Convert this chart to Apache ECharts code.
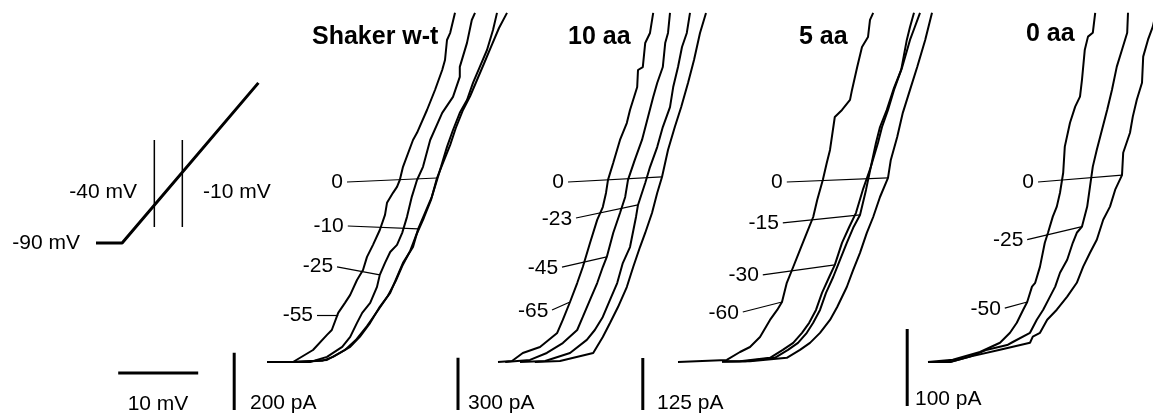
<!DOCTYPE html>
<html>
<head>
<meta charset="utf-8">
<script src="https://cdn.jsdelivr.net/npm/echarts@6/dist/echarts.min.js"></script>
<style>
  html, body { margin: 0; background: #fff; }
  #dom { width: 1153px; height: 414px; }
</style>
</head>
<body>
<div id="dom"></div>
<script>
// ramp protocol (schematic): time in ms, voltage in mV
var rampTime = [0, 28, 174];
var rampVolt = [-74.5, -74.5, 71];
var cursorTimes = [62.5, 92.5];
var cursorRange = [-60, 19];

var panelNames = ['Shaker w-t', '10 aa', '5 aa', '0 aa'];
var scaleBarPA = [200, 300, 125, 100];
var scaleBarMV = 10;

// traces: [mV, pA]
var wt_m55 = [[-40,0],[-36.75,0],[-34.25,42],[-32.5,95],[-31.9,112],[-31.1,172],[-30.25,207],[-29.6,235],[-28.75,287],[-28,322],[-27.5,368],[-26.75,410],[-25.9,462],[-25.25,515],[-25,557],[-24.25,592],[-23.75,613],[-23.4,637],[-23,683],[-21.75,777],[-21.25,802],[-20,882],[-19,952],[-18.1,1022],[-17.75,1057],[-17.5,1127],[-17.1,1152],[-16.5,1222]];
var wt_m25 = [[-36.75,0],[-34.6,0],[-32.5,18],[-30.6,53],[-29.6,88],[-28.75,137],[-28.1,172],[-27.1,207],[-26.25,263],[-25.9,305],[-25.25,347],[-24.6,385],[-23.75,410],[-23.1,452],[-22.5,508],[-21.9,578],[-21.25,637],[-20.5,683],[-19.6,777],[-18.1,872],[-16.75,928],[-15.9,998],[-15.9,1033],[-15,1117],[-14.4,1197],[-14,1222]];
var wt_m10 = [[-36.75,0],[-34,4],[-32.5,7],[-30.9,32],[-29.6,53],[-28.4,88],[-27.1,137],[-25.9,193],[-24.6,242],[-23.75,298],[-23,347],[-21.75,403],[-21.1,466],[-20.25,522],[-19.4,578],[-18.75,637],[-18.25,683],[-17.5,753],[-16.75,812],[-15.9,872],[-15,917],[-14.25,977],[-13.4,1033],[-12.5,1092],[-11.75,1162],[-11.25,1222]];
var wt_0 = [[-36.75,0],[-33.1,4],[-31.75,18],[-30.25,42],[-28.9,77],[-27.5,126],[-26.1,182],[-24.9,231],[-23.9,284],[-23.1,336],[-22.1,389],[-21.4,441],[-20.4,504],[-19.5,567],[-18.75,644],[-18,697],[-17.1,760],[-16.4,819],[-15.5,882],[-14.6,931],[-13.75,987],[-12.9,1043],[-12,1103],[-11,1169],[-10,1222]];

var aa10_m65 = [[-40,0],[-38.25,6],[-36.9,52],[-34.75,86],[-32.6,167],[-31.9,242],[-31,345],[-30.1,454],[-29.4,546],[-28.5,684],[-27.6,817],[-26.9,891],[-26.5,972],[-26.25,1047],[-25.6,1144],[-24.75,1277],[-23.9,1374],[-23.5,1449],[-22.6,1581],[-22.5,1679],[-21.9,1696],[-21.6,1834],[-21,1892],[-20.6,2007]];
var aa10_m45 = [[-39.1,0],[-36,12],[-33.9,52],[-31.9,109],[-30.1,184],[-29.4,259],[-28.5,357],[-27.6,454],[-26.9,546],[-26.4,604],[-25.6,742],[-24.75,857],[-24.1,949],[-23.75,1047],[-22.9,1162],[-22,1277],[-21.25,1409],[-20.6,1524],[-20.1,1604],[-19.4,1696],[-19.1,1834],[-18.75,1892],[-18.5,2007]];
var aa10_m23 = [[-37.25,0],[-34.1,6],[-31,52],[-28.9,127],[-27.9,184],[-26.9,259],[-26,357],[-25.1,454],[-24.4,569],[-23.5,661],[-22.75,834],[-22.5,903],[-21.6,1029],[-21,1121],[-20.1,1236],[-19.4,1351],[-18.5,1466],[-18.1,1581],[-17.5,1696],[-17,1811],[-16.4,1892],[-16,2007]];
var aa10_0 = [[-35.4,0],[-32.25,6],[-28.1,52],[-26.9,144],[-26,224],[-25,316],[-23.9,431],[-23.1,546],[-22.25,661],[-21.6,742],[-20.75,857],[-20.1,972],[-19.5,1064],[-18.75,1219],[-17.9,1351],[-17.1,1466],[-16.25,1604],[-15.5,1737],[-14.75,1892],[-14,2007]];

var aa5_m60 = [[-40,0],[-33.9,5],[-32.25,24],[-31,36],[-29.75,60],[-28.5,101],[-27.6,125],[-27,144],[-26.4,190],[-25.6,228],[-24.75,269],[-23.9,310],[-23.1,348],[-22.6,389],[-21.9,437],[-21.4,478],[-21,509],[-20.4,588],[-19.5,605],[-18.5,629],[-18.25,653],[-17.6,708],[-17,756],[-16.25,780],[-16,821],[-15.6,838]];
var aa5_m30 = [[-34.5,1],[-32.25,2],[-28.5,10],[-26.9,29],[-25.6,46],[-24.5,70],[-23.6,94],[-22.75,125],[-22,166],[-21.1,204],[-20.4,233],[-19.5,286],[-18.6,324],[-17.75,358],[-16.9,413],[-15.9,468],[-15,526],[-14.5,564],[-13.75,605],[-13,653],[-12.1,701],[-11.4,773],[-11,804],[-10.5,838]];
var aa5_m15 = [[-34.5,1],[-31.6,2],[-27.9,10],[-26.25,29],[-25,46],[-23.9,70],[-23.1,94],[-22.25,125],[-21.5,166],[-20.6,204],[-19.75,245],[-18.9,286],[-18.1,322],[-17.25,353],[-16.5,413],[-15.9,468],[-15.25,526],[-14.75,564],[-13.9,605],[-13,658],[-12,706],[-11,773],[-10.4,804],[-9.75,838]];
var aa5_0 = [[-34.5,1],[-31,2],[-26.4,10],[-24.75,29],[-23.5,46],[-22.25,70],[-21,101],[-20.1,132],[-18.9,180],[-18.1,221],[-17.25,262],[-16.4,310],[-15.6,348],[-14.75,396],[-13.75,442],[-13.4,485],[-12.6,540],[-11.9,598],[-11,653],[-10.1,708],[-9.1,773],[-8.25,838]];

var aa0_m50 = [[-40,0],[-36.9,3],[-33.5,13],[-31,25],[-29.75,38],[-28.9,51],[-28.1,68],[-27.6,78],[-27,98],[-26.6,103],[-26,124],[-25.4,155],[-25,168],[-24.4,189],[-23.9,202],[-23.5,220],[-23.1,246],[-22.9,280],[-22.25,311],[-21.6,332],[-21,345],[-20.75,367],[-20.4,406],[-20,423],[-19.4,428],[-19.1,454]];
var aa0_m25 = [[-40,0],[-37.25,0],[-34.75,7],[-32.6,16],[-30.1,22],[-29.4,26],[-27.25,38],[-26.4,55],[-25.6,68],[-24.75,85],[-24.1,98],[-23.5,116],[-22.6,133],[-21.9,155],[-21.4,168],[-20.75,176],[-20.1,202],[-19.75,228],[-19.4,254],[-18.9,276],[-18.25,302],[-17.6,328],[-17,354],[-16.4,384],[-15.75,406],[-15.1,428],[-15,454]];
var aa0_0 = [[-40,0],[-37.25,0],[-34.75,7],[-31,16],[-27.25,25],[-26.9,33],[-26,38],[-25.1,55],[-23.9,68],[-22.6,85],[-21.4,103],[-20.6,124],[-19.75,142],[-18.9,159],[-18.1,185],[-17.25,202],[-16.6,224],[-15.75,243],[-15.6,272],[-14.75,298],[-14.4,319],[-13.9,341],[-13.25,363],[-13.1,397],[-12.5,419],[-11.9,436],[-11.5,454]];

// curve labels and leader lines [start, end] in [mV, pA]
var wtLabels = ['0', '-10', '-25', '-55'];
var wtLeaders = [[[-30,630],[-18.75,644]], [[-29.9,476],[-21.1,466]], [[-31.25,333],[-25.9,305]], [[-33.75,165],[-31.1,165]]];
var aa10Labels = ['0', '-23', '-45', '-65'];
var aa10Leaders = [[[-31.25,1035],[-19.5,1064]], [[-30.25,828],[-22.5,903]], [[-32,546],[-26.4,604]], [[-33.25,299],[-31,345]]];
var aa5Labels = ['0', '-15', '-30', '-60'];
var aa5Leaders = [[[-26.4,432],[-13.75,442]], [[-26.9,334],[-17.25,353]], [[-29.4,209],[-20.4,233]], [[-31.9,120],[-27,144]]];
var aa0Labels = ['0', '-25', '-50'];
var aa0Leaders = [[[-26.25,234],[-15.75,243]], [[-27.6,159],[-20.75,176]], [[-30.4,70],[-27.6,78]]];

var FONT = '"Liberation Sans", Arial, sans-serif';

function trace(data, idx, width) {
  return {
    type: 'line', xAxisIndex: idx, yAxisIndex: idx, data: data,
    symbol: 'none', silent: true,
    lineStyle: { color: '#000', width: width || 2 }
  };
}

function withLeaders(s, labels, leaders) {
  s.markLine = {
    silent: true, symbol: ['none', 'none'], animation: false,
    lineStyle: { color: '#000', width: 1.2, type: 'solid' },
    label: { show: true, position: 'start', distance: 4, color: '#000', fontSize: 21, fontFamily: FONT },
    emphasis: { disabled: true },
    data: leaders.map(function (l, i) {
      return [{ coord: l[0], label: { formatter: labels[i] } }, { coord: l[1], label: { formatter: labels[i] } }];
    })
  };
  return s;
}

var myChart = echarts.init(document.getElementById('dom'));

var grids = [
  { left: 96, top: 73, width: 168, height: 198 },
  { left: 107, top: 10, width: 400, height: 404 },
  { left: 450, top: 10, width: 288, height: 404 },
  { left: 630, top: 10, width: 328, height: 404 },
  { left: 896, top: 10, width: 256, height: 404 }
];
var xRanges = [[0, 180], [-60, -10], [-46, -10], [-46, -5], [-44, -12]];
var yRanges = [[-100, 80], [-182, 1232], [-299, 2024], [-124.8, 844.8], [-67.6, 457.6]];

var series = [];
// ramp
series.push(trace(rampTime.map(function (t, i) { return [t, rampVolt[i]]; }), 0, 3));
cursorTimes.forEach(function (t) {
  series.push(trace([[t, cursorRange[0]], [t, cursorRange[1]]], 0, 1.5));
});

// panels
series.push(withLeaders(trace(wt_0, 1), wtLabels, wtLeaders));
series.push(trace(wt_m10, 1), trace(wt_m25, 1), trace(wt_m55, 1));
series.push(withLeaders(trace(aa10_0, 2), aa10Labels, aa10Leaders));
series.push(trace(aa10_m23, 2), trace(aa10_m45, 2), trace(aa10_m65, 2));
series.push(withLeaders(trace(aa5_0, 3), aa5Labels, aa5Leaders));
series.push(trace(aa5_m15, 3), trace(aa5_m30, 3), trace(aa5_m60, 3));
series.push(withLeaders(trace(aa0_0, 4), aa0Labels, aa0Leaders));
series.push(trace(aa0_m25, 4), trace(aa0_m50, 4));

// scale bars
var barPos = [[-44.1, -168], [-45, -276], [-44.4, -115.2], [-42.6, -57.2]];
barPos.forEach(function (p, i) {
  series.push(trace([[p[0], p[1]], [p[0], p[1] + scaleBarPA[i]]], i + 1, 3));
});
series.push(trace([[-58.6, -38.5], [-58.6 + scaleBarMV, -38.5]], 1, 3));

function txt(x, y, text, opts) {
  opts = opts || {};
  return {
    type: 'text', x: x, y: y, silent: true,
    style: {
      text: text, fill: '#000',
      font: (opts.bold ? 'bold ' : '') + (opts.size || 21) + 'px ' + FONT,
      align: opts.align || 'left', verticalAlign: 'middle'
    }
  };
}

var titlePos = [[312, 37], [568, 37], [799, 37], [1026, 34]];
var barLabelPos = [[250, 403], [468, 403], [657, 403], [915, 399]];

var graphic = [];
panelNames.forEach(function (n, i) {
  graphic.push(txt(titlePos[i][0], titlePos[i][1], n, { bold: true, size: 25 }));
  graphic.push(txt(barLabelPos[i][0], barLabelPos[i][1], scaleBarPA[i] + ' pA'));
});
graphic.push(txt(158, 404, scaleBarMV + ' mV', { align: 'center' }));
graphic.push(txt(80, 243, '-90 mV', { align: 'right' }));
graphic.push(txt(137, 192, '-40 mV', { align: 'right' }));
graphic.push(txt(203, 192, '-10 mV'));

var option = {
  animation: false,
  backgroundColor: '#fff',
  grid: grids,
  xAxis: xRanges.map(function (r, i) {
    return { type: 'value', gridIndex: i, min: r[0], max: r[1], show: false };
  }),
  yAxis: yRanges.map(function (r, i) {
    return { type: 'value', gridIndex: i, min: r[0], max: r[1], show: false };
  }),
  series: series,
  graphic: graphic
};
myChart.setOption(option);
</script>
</body>
</html>
